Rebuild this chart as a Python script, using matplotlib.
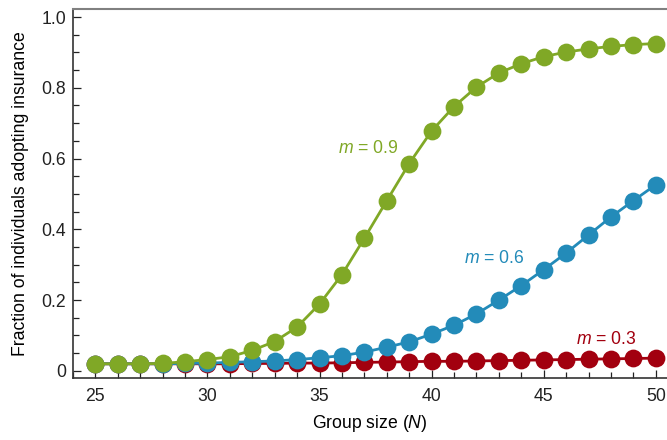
import numpy as np
import matplotlib
matplotlib.use("Agg")
from matplotlib import pyplot as plt
from matplotlib.ticker import MultipleLocator, FuncFormatter

plt.rcParams['font.family'] = ['Liberation Sans', 'DejaVu Sans']
plt.rcParams['mathtext.fontset'] = 'custom'
plt.rcParams['mathtext.it'] = 'Liberation Sans:italic'
plt.rcParams['mathtext.rm'] = 'Liberation Sans'

group_size = np.arange(25, 51)

frac_m09 = [0.020, 0.020, 0.020, 0.021, 0.026, 0.032, 0.040, 0.058, 0.083, 0.124,
            0.189, 0.272, 0.375, 0.481, 0.586, 0.678, 0.747, 0.802, 0.842, 0.868,
            0.888, 0.901, 0.910, 0.917, 0.922, 0.925]
frac_m06 = [0.020, 0.020, 0.020, 0.020, 0.021, 0.022, 0.024, 0.026, 0.028, 0.032,
            0.037, 0.043, 0.053, 0.067, 0.082, 0.104, 0.129, 0.161, 0.200, 0.241,
            0.286, 0.333, 0.384, 0.435, 0.481, 0.526]
frac_m03 = [0.020, 0.020, 0.020, 0.020, 0.020, 0.020, 0.020, 0.021, 0.021, 0.022,
            0.022, 0.023, 0.024, 0.025, 0.026, 0.027, 0.027, 0.028, 0.029, 0.030,
            0.031, 0.032, 0.033, 0.034, 0.035, 0.036]

green = '#80a826'
blue = '#238bb9'
red = '#a2000f'
fs = 12.7

fig = plt.figure(figsize=(6.67, 4.40), dpi=100)
ax = fig.add_axes([0.1094, 0.141, 0.8906, 0.8385])

for ys, c in [(frac_m03, red), (frac_m06, blue), (frac_m09, green)]:
    ax.plot(group_size, ys, '-o', color=c, lw=2.0, ms=12.8, mew=0)

ax.set_xlim(24, 50.5)
ax.set_ylim(-0.02, 1.0226)

ax.xaxis.set_major_locator(MultipleLocator(5))
ax.xaxis.set_minor_locator(MultipleLocator(1))
ax.yaxis.set_major_locator(MultipleLocator(0.2))
ax.yaxis.set_minor_locator(MultipleLocator(0.05))
ax.yaxis.set_major_formatter(FuncFormatter(lambda v, p: '0' if abs(v) < 1e-9 else f'{v:.1f}'))

ax.tick_params(which='both', direction='in', top=False, right=False, labelsize=fs, colors='#222222')
ax.tick_params(which='major', length=6, width=0.9)
ax.tick_params(which='minor', length=4, width=0.9)
ax.tick_params(axis='x', pad=7)
ax.tick_params(axis='y', pad=5)

ax.spines['right'].set_visible(False)
ax.spines['top'].set_color('#808080')
ax.spines['top'].set_linewidth(1.5)
ax.spines['left'].set_color('#333333')
ax.spines['bottom'].set_color('#333333')
ax.spines['left'].set_linewidth(1.2)
ax.spines['bottom'].set_linewidth(1.2)

ax.set_xlabel('Group size ($\\mathit{N}$)', fontsize=fs, labelpad=6)
ax.set_ylabel('Fraction of individuals adopting insurance', fontsize=fs, labelpad=9)

ax.text(37.15, 0.628, '$\\mathit{m}$ = 0.9', color=green, fontsize=fs, ha='center', va='center')
ax.text(42.8, 0.318, '$\\mathit{m}$ = 0.6', color=blue, fontsize=fs, ha='center', va='center')
ax.text(47.8, 0.09, '$\\mathit{m}$ = 0.3', color=red, fontsize=fs, ha='center', va='center')

fig.savefig('out.png', dpi=100)
